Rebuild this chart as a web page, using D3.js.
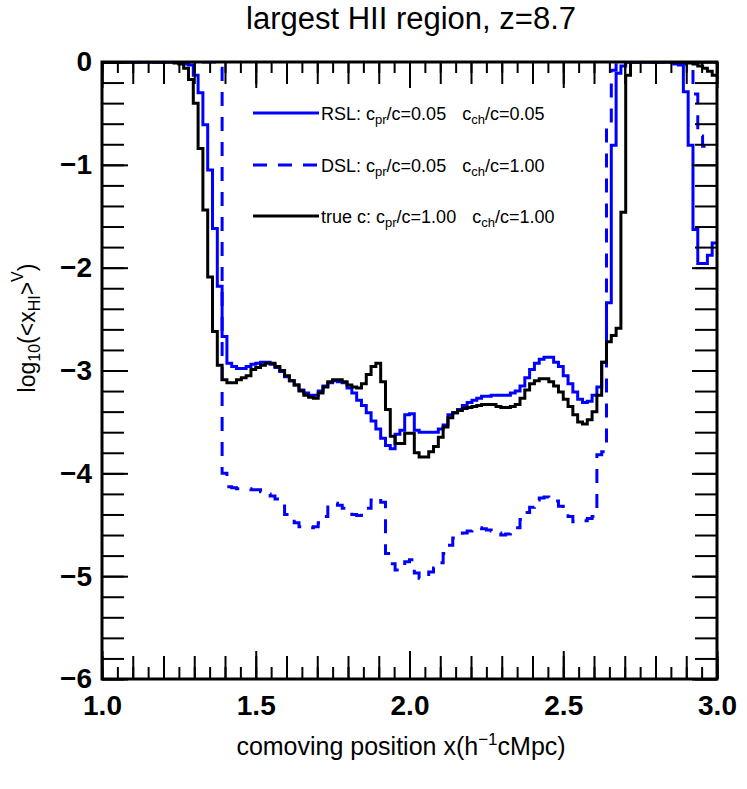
<!DOCTYPE html>
<html>
<head>
<meta charset="utf-8">
<script src="https://d3js.org/d3.v7.min.js"></script>
<style>
  body { margin: 0; background: #fff; }
  svg text { font-family: "Liberation Sans", Arial, Helvetica, sans-serif; fill: #000; }
</style>
</head>
<body>
<svg id="chart" width="747" height="789"></svg>
<script>
// bins of the histogram (log10 of volume weighted neutral fraction)
const X_START = 1.0;
const BIN_WIDTH = 1 / 64;

const rsl = [
  0, 0, 0, 0, 0, 0, 0, 0, 0, 0, 0, 0, 0, 0, 0, 0,
  -0.01, -0.02, -0.03, -0.13, -0.30, -0.61, -1.05, -1.62, -2.18, -2.67,
  -2.93, -2.96, -2.98, -2.98, -2.96, -2.94, -2.93, -2.92, -2.92, -2.94,
  -2.97, -3.01, -3.06, -3.10, -3.14, -3.19, -3.22, -3.24, -3.24, -3.20,
  -3.15, -3.12, -3.10, -3.11, -3.12, -3.17, -3.22, -3.29, -3.34, -3.41,
  -3.49, -3.57, -3.66, -3.73, -3.76, -3.62, -3.58, -3.43, -3.42, -3.58,
  -3.60, -3.60, -3.60, -3.60, -3.57, -3.53, -3.43, -3.41, -3.38, -3.34,
  -3.31, -3.29, -3.27, -3.25, -3.25, -3.24, -3.24, -3.24, -3.24, -3.22,
  -3.20, -3.15, -3.07, -2.99, -2.93, -2.89, -2.87, -2.87, -2.92, -2.96,
  -3.05, -3.13, -3.21, -3.28, -3.31, -3.30, -3.24, -3.16, -2.92, -2.34,
  -0.81, -0.11, -0.04,
  0, 0, 0, 0, 0, 0, 0, 0, 0, 0,
  -0.02, -0.03, -0.29, -0.81, -1.63, -1.96, -1.96, -1.88, -1.76
];

const dsl = [
  0, 0, 0, 0, 0, 0, 0, 0, 0, 0, 0, 0, 0, 0, 0, 0, 0, 0, 0, 0, 0, 0, 0, 0,
  -0.06, -4.00, -4.13, -4.14, -4.15, -4.15, -4.15, -4.16, -4.16, -4.18,
  -4.20, -4.22, -4.25, -4.30, -4.40, -4.44, -4.48, -4.52, -4.53, -4.53,
  -4.52, -4.48, -4.42, -4.31, -4.29, -4.31, -4.34, -4.37, -4.40, -4.41,
  -4.39, -4.34, -4.26, -4.24, -4.28, -4.78, -4.88, -4.94, -4.90, -4.86,
  -4.84, -4.97, -5.02, -5.00, -4.96, -4.92, -4.87, -4.78, -4.70, -4.63,
  -4.60, -4.58, -4.56, -4.54, -4.53, -4.54, -4.55, -4.56, -4.58, -4.60,
  -4.59, -4.57, -4.53, -4.45, -4.38, -4.33, -4.26, -4.24, -4.23, -4.25,
  -4.27, -4.32, -4.38, -4.42, -4.47, -4.47, -4.46, -4.44, -4.42, -3.82,
  -3.79, -0.59, -0.08,
  0, 0, 0, 0, 0, 0, 0, 0, 0, 0, 0, 0, 0,
  -0.01, -0.02, -0.06, -0.31, -0.72, -0.82, -0.82, -0.82
];

const trueC = [
  0, 0, 0, 0, 0, 0, 0, 0, 0, 0, 0, 0, 0, 0, 0,
  -0.01, -0.02, -0.06, -0.17, -0.40, -0.84, -1.44, -2.09, -2.62, -2.95,
  -3.09, -3.12, -3.12, -3.09, -3.07, -3.05, -2.99, -2.97, -2.95, -2.93,
  -2.93, -2.96, -3.00, -3.05, -3.10, -3.14, -3.20, -3.24, -3.26, -3.27,
  -3.22, -3.16, -3.11, -3.09, -3.09, -3.11, -3.14, -3.16, -3.17, -3.13,
  -3.04, -2.96, -2.93, -3.11, -3.38, -3.64, -3.71, -3.71, -3.61, -3.61,
  -3.80, -3.84, -3.84, -3.79, -3.74, -3.65, -3.55, -3.46, -3.41, -3.39,
  -3.37, -3.36, -3.35, -3.34, -3.33, -3.33, -3.33, -3.35, -3.36, -3.36,
  -3.35, -3.33, -3.27, -3.19, -3.13, -3.10, -3.08, -3.08, -3.11, -3.15,
  -3.21, -3.28, -3.35, -3.43, -3.50, -3.52, -3.48, -3.40, -3.24, -2.92,
  -2.72, -2.66, -2.59, -1.46, -0.13,
  0, 0, 0, 0, 0, 0, 0, 0, 0, 0, 0, 0,
  -0.01, -0.02, -0.04, -0.06, -0.09, -0.13
];

const xLabelTicks = [1.0, 1.5, 2.0, 2.5, 3.0];
const yLabelTicks = [0, -1, -2, -3, -4, -5, -6];

const legendRows = [
  { series: rsl,   color: "#0000ff", dash: null,    name: "RSL: c",    cpr: "0.05", cch: "0.05" },
  { series: dsl,   color: "#0000ff", dash: "14,11", name: "DSL: c",    cpr: "0.05", cch: "1.00" },
  { series: trueC, color: "#000000", dash: null,    name: "true c: c", cpr: "1.00", cch: "1.00" }
];

const W = 747, H = 789;
const frame = { left: 102, right: 717, top: 62, bottom: 679 };

const svg = d3.select("#chart");
svg.append("rect").attr("width", W).attr("height", H).attr("fill", "#fff");

const x = d3.scaleLinear().domain([1, 3]).range([frame.left, frame.right]);
const y = d3.scaleLinear().domain([-6, 0]).range([frame.bottom, frame.top]);

svg.append("clipPath").attr("id", "plot-clip")
  .append("rect")
  .attr("x", frame.left).attr("y", frame.top)
  .attr("width", frame.right - frame.left).attr("height", frame.bottom - frame.top);

// histogram steps
const stepLine = d3.line()
  .x(d => x(d[0]))
  .y(d => y(d[1]))
  .curve(d3.curveStepAfter);

function toSteps(values) {
  const pts = values.map((v, i) => [X_START + i * BIN_WIDTH, v]);
  pts.push([X_START + values.length * BIN_WIDTH, values[values.length - 1]]);
  return pts;
}

const plot = svg.append("g").attr("clip-path", "url(#plot-clip)");
[legendRows[1], legendRows[0], legendRows[2]].forEach(row => {
  plot.append("path")
    .attr("d", stepLine(toSteps(row.series)))
    .attr("fill", "none")
    .attr("stroke", row.color)
    .attr("stroke-width", 3)
    .attr("stroke-dasharray", row.dash);
});

// axes, three tick lengths like the original
const xTenth = d3.range(10, 31).map(i => i / 10);
const xTwentieth = d3.range(0, 41).map(i => 1 + i * 0.05);
const yFifth = d3.range(0, 31).map(i => -i / 5);

function addAxis(gen, tx, ty) {
  const g = svg.append("g").attr("transform", `translate(${tx},${ty})`).call(gen);
  g.select(".domain").remove();
  g.selectAll("line").attr("stroke-width", 2);
  return g;
}

const fmtY = d => d === 0 ? "0" : "\u2212" + Math.abs(d);

// bottom
addAxis(d3.axisBottom(x).tickValues(xTwentieth).tickSize(-12).tickFormat(""), 0, frame.bottom);
addAxis(d3.axisBottom(x).tickValues(xTenth).tickSize(-23).tickFormat(""), 0, frame.bottom);
addAxis(d3.axisBottom(x).tickValues(xLabelTicks).tickSize(-28).tickPadding(16).tickFormat(d3.format(".1f")), 0, frame.bottom)
  .selectAll("text").attr("font-size", 28).attr("font-weight", "bold");
// top
addAxis(d3.axisTop(x).tickValues(xTwentieth).tickSize(-11).tickFormat(""), 0, frame.top);
addAxis(d3.axisTop(x).tickValues(xTenth).tickSize(-22).tickFormat(""), 0, frame.top);
addAxis(d3.axisTop(x).tickValues(xLabelTicks).tickSize(-26).tickFormat(""), 0, frame.top);
// left
addAxis(d3.axisLeft(y).tickValues(yFifth).tickSize(-22).tickFormat(""), frame.left, 0);
addAxis(d3.axisLeft(y).tickValues(yLabelTicks).tickSize(-26).tickPadding(10).tickFormat(fmtY), frame.left, 0)
  .selectAll("text").attr("font-size", 28).attr("font-weight", "bold");
// right
addAxis(d3.axisRight(y).tickValues(yFifth).tickSize(-22).tickFormat(""), frame.right, 0);
addAxis(d3.axisRight(y).tickValues(yLabelTicks).tickSize(-25).tickFormat(""), frame.right, 0);

svg.append("rect")
  .attr("x", frame.left).attr("y", frame.top)
  .attr("width", frame.right - frame.left).attr("height", frame.bottom - frame.top)
  .attr("fill", "none").attr("stroke", "#000").attr("stroke-width", 3);

// title
svg.append("text")
  .attr("x", 411).attr("y", 29)
  .attr("text-anchor", "middle")
  .attr("font-size", 31)
  .text("largest HII region, z=8.7");

// x title
const xt = svg.append("text")
  .attr("x", 401).attr("y", 755)
  .attr("text-anchor", "middle")
  .attr("font-size", 25);
xt.append("tspan").text("comoving position x(h");
xt.append("tspan").attr("font-size", 17).attr("dy", -10).text("\u22121");
xt.append("tspan").attr("dy", 10).text("cMpc)");

// y title
const yt = svg.append("text")
  .attr("transform", "translate(35,328) rotate(-90)")
  .attr("text-anchor", "middle")
  .attr("font-size", 23);
yt.append("tspan").text("log");
yt.append("tspan").attr("font-size", 16).attr("dy", 5).text("10");
yt.append("tspan").attr("dy", -5).text("(<x");
yt.append("tspan").attr("font-size", 16).attr("dy", 5).text("HI");
yt.append("tspan").attr("dy", -5).text(">");
yt.append("tspan").attr("font-size", 16).attr("dy", -12).text("V");
yt.append("tspan").attr("dy", 12).text(")");

// legend
const legendY = [113, 165, 216];
legendRows.forEach((row, i) => {
  const ly = legendY[i];
  svg.append("line")
    .attr("x1", 253).attr("x2", 319).attr("y1", ly).attr("y2", ly)
    .attr("stroke", row.color).attr("stroke-width", 3)
    .attr("stroke-dasharray", row.dash);
  const t = svg.append("text").attr("x", 321).attr("y", ly + 6.5).attr("font-size", 18);
  t.append("tspan").text(row.name);
  t.append("tspan").attr("font-size", 13).attr("dy", 4).text("pr");
  t.append("tspan").attr("dy", -4).text("/c=" + row.cpr);
  t.append("tspan").attr("dx", 16).text("c");
  t.append("tspan").attr("font-size", 13).attr("dy", 4).text("ch");
  t.append("tspan").attr("dy", -4).text("/c=" + row.cch);
});
</script>
</body>
</html>
